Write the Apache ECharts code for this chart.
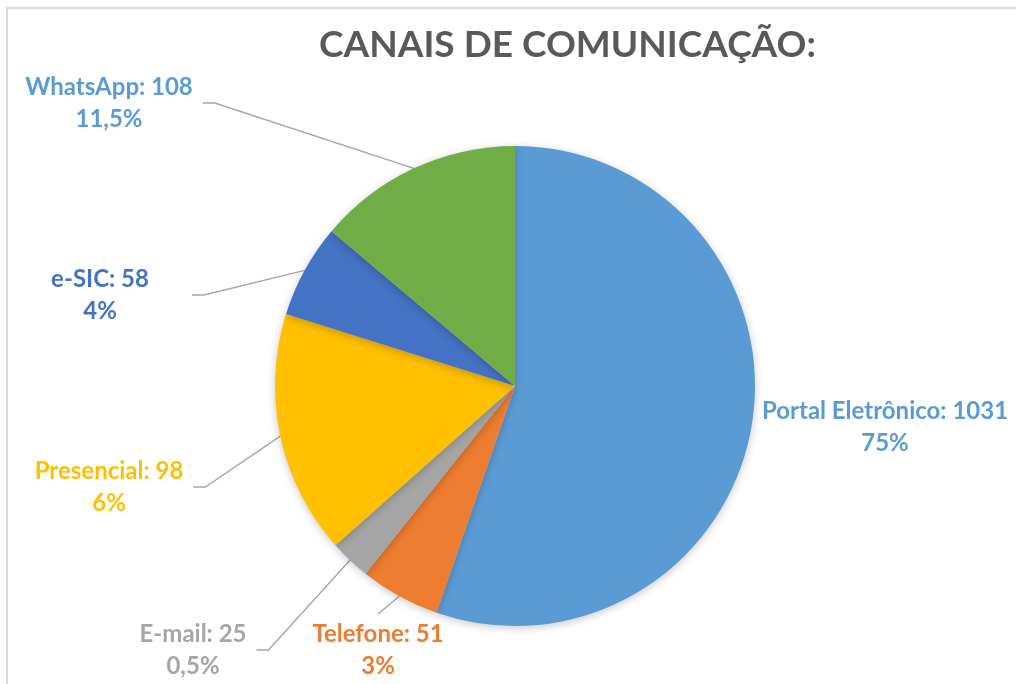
<!DOCTYPE html>
<html>
<head>
<meta charset="utf-8">
<script src="https://cdn.jsdelivr.net/npm/echarts@6/dist/echarts.min.js"></script>
<style>
  html, body { margin: 0; padding: 0; background: #fff; }
  .frame {
    position: absolute;
    left: 6px;
    top: 7px;
    right: 0;
    bottom: 0;
    border-top: 2px solid #d9d9d9;
    border-left: 2px solid #d9d9d9;
  }
  #chart { position: absolute; left: 0; top: 0; width: 1016px; height: 684px; }
</style>
</head>
<body>
<div class="frame"></div>
<div id="chart"></div>
<script>
// slices are listed clockwise from 12 o'clock, as in the source
const categories = ['Portal Eletrônico', 'Telefone', 'E-mail', 'Presencial', 'e-SIC', 'WhatsApp']
const counts = [1031, 51, 25, 98, 58, 108]
const percentLabels = ['75%', '3%', '0,5%', '6%', '4%', '11,5%']
// share of the circle each slice takes in the picture (not the same as the printed %)
const sliceShares = [55.3, 5.4, 2.75, 16.4, 6.3, 13.85]

const SLICE_COLORS = ['#5B9BD5', '#ED7D31', '#A5A5A5', '#FFC000', '#4472C4', '#70AD47']
const LABEL_COLORS = ['#5B9BD5', '#ED7D31', '#A5A5A5', '#FFC000', '#4472C4', '#5B9BD5']
// label block centres (layout only)
const LABEL_POS = [[885, 427], [378, 650], [193, 650], [109, 487], [100, 295], [109, 103]]

const FONT = 'Lato, "Open Sans", sans-serif'

const chart = echarts.init(document.getElementById('chart'))

const data = categories.map((name, i) => {
  const item = {
    name,
    value: sliceShares[i],
    itemStyle: { color: SLICE_COLORS[i] },
    label: { color: LABEL_COLORS[i] },
  }
  if (i === 0) item.labelLine = { show: false }
  if (i === 1) item.labelLine = { length2: 0 }
  if (i === 4) item.label.width = 164
  return item
})

chart.setOption({
  animation: false,
  title: {
    text: 'CANAIS DE COMUNICAÇÃO:',
    left: 319,
    top: 27,
    padding: 0,
    textStyle: {
      fontFamily: FONT,
      fontSize: 37,
      fontWeight: 'bold',
      color: '#595959',
    },
  },
  series: [
    {
      type: 'pie',
      center: [515, 386],
      radius: 240,
      startAngle: 90,
      clockwise: true,
      emphasis: { disabled: true },
      itemStyle: {
        borderWidth: 0,
        shadowBlur: 8,
        shadowColor: 'rgba(0,0,0,0.22)',
        shadowOffsetY: 2,
      },
      label: {
        show: true,
        position: 'outside',
        overflow: 'none',
        fontFamily: FONT,
        fontSize: 24,
        fontWeight: 'bold',
        lineHeight: 32,
        align: 'center',
        padding: [4, 10],
        backgroundColor: 'rgba(255,255,255,0)',
        formatter: (p) => `${categories[p.dataIndex]}: ${counts[p.dataIndex]}\n${percentLabels[p.dataIndex]}`,
      },
      labelLine: {
        show: true,
        length: 10,
        length2: 12,
        lineStyle: { color: '#a6a6a6', width: 1.4 },
      },
      labelLayout: (params) => ({
        x: LABEL_POS[params.dataIndex][0],
        y: LABEL_POS[params.dataIndex][1],
        align: 'center',
        verticalAlign: 'middle',
      }),
      data,
    },
  ],
})
</script>
</body>
</html>
